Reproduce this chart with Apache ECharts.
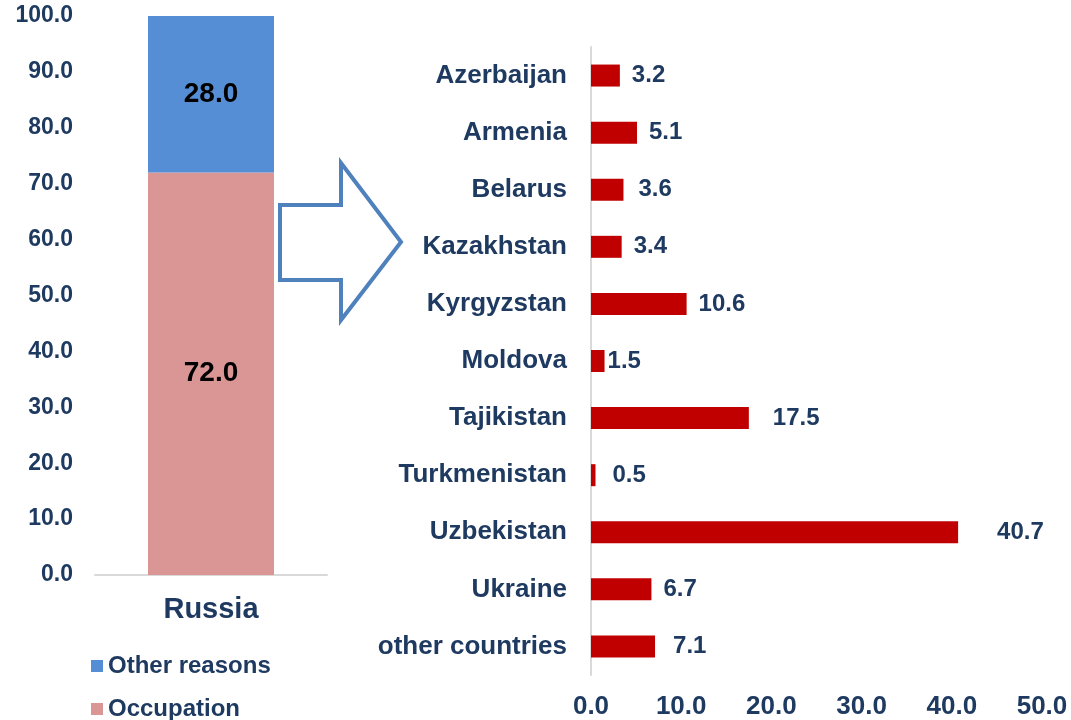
<!DOCTYPE html>
<html>
<head>
<meta charset="utf-8">
<script src="https://cdn.jsdelivr.net/npm/echarts@6/dist/echarts.min.js"></script>
<style>
  html, body { margin: 0; padding: 0; background: #fff; }
  #main { width: 1071px; height: 720px; }
</style>
</head>
<body>
<div id="main"></div>
<script>
var leftCategories = ['Russia'];
var occupation = [72.0];
var otherReasons = [28.0];

var countries = ['Azerbaijan', 'Armenia', 'Belarus', 'Kazakhstan', 'Kyrgyzstan', 'Moldova',
  'Tajikistan', 'Turkmenistan', 'Uzbekistan', 'Ukraine', 'other countries'];
var countryShares = [3.2, 5.1, 3.6, 3.4, 10.6, 1.5, 17.5, 0.5, 40.7, 6.7, 7.1];

var navy = '#1f3a60';
var font = 'Liberation Sans, Arial, sans-serif';

// label gaps differ a bit in the original (excel style)
var labelGap = { 'Tajikistan': 24, 'Uzbekistan': 39, 'Moldova': 3, 'Turkmenistan': 17, 'other countries': 18, 'Belarus': 15 };

function fmt1(v) { return Number(v).toFixed(1); }

var chart = echarts.init(document.getElementById('main'));

var legendText = { color: navy, fontSize: 24, fontWeight: 'bold', fontFamily: font };

chart.setOption({
  animation: false,
  textStyle: { fontFamily: font },
  legend: [
    {
      left: 86, top: 649,
      itemWidth: 12, itemHeight: 12, itemGap: 6,
      selectedMode: false,
      data: [{ name: 'Other reasons', icon: 'rect' }],
      textStyle: legendText
    },
    {
      left: 86, top: 692,
      itemWidth: 12, itemHeight: 12, itemGap: 6,
      selectedMode: false,
      data: [{ name: 'Occupation', icon: 'rect' }],
      textStyle: legendText
    }
  ],
  grid: [
    { left: 95, top: 16, width: 232, height: 559 },
    { left: 591, top: 47, width: 451, height: 628 }
  ],
  xAxis: [
    {
      gridIndex: 0,
      type: 'category',
      data: leftCategories,
      axisTick: { show: false },
      axisLine: { lineStyle: { color: '#d9d9d9', width: 2 } },
      axisLabel: { color: navy, fontSize: 29, fontWeight: 'bold', margin: 20 }
    },
    {
      gridIndex: 1,
      type: 'value',
      min: 0,
      max: 50,
      interval: 10,
      axisLine: { show: false },
      axisTick: { show: false },
      splitLine: { show: false },
      axisLabel: { color: navy, fontSize: 26, fontWeight: 'bold', margin: 19, formatter: fmt1 }
    }
  ],
  yAxis: [
    {
      gridIndex: 0,
      type: 'value',
      min: 0,
      max: 100,
      interval: 10,
      axisLine: { show: false },
      axisTick: { show: false },
      splitLine: { show: false },
      axisLabel: { color: navy, fontSize: 23, fontWeight: 'bold', margin: 22, formatter: fmt1 }
    },
    {
      gridIndex: 1,
      type: 'category',
      inverse: true,
      data: countries,
      axisTick: { show: false },
      axisLine: { lineStyle: { color: '#d9d9d9', width: 2 } },
      axisLabel: { color: navy, fontSize: 26, fontWeight: 'bold', margin: 24 }
    }
  ],
  series: [
    {
      name: 'Occupation',
      type: 'bar',
      stack: 'ru',
      xAxisIndex: 0,
      yAxisIndex: 0,
      barWidth: 126,
      data: occupation,
      itemStyle: { color: '#d99694' },
      label: {
        show: true, position: 'inside', color: '#000', fontSize: 28, fontWeight: 'bold',
        formatter: function (p) { return fmt1(p.value); }
      }
    },
    {
      name: 'Other reasons',
      type: 'bar',
      stack: 'ru',
      xAxisIndex: 0,
      yAxisIndex: 0,
      barWidth: 126,
      data: otherReasons,
      itemStyle: { color: '#558ed5' },
      label: {
        show: true, position: 'inside', color: '#000', fontSize: 28, fontWeight: 'bold',
        formatter: function (p) { return fmt1(p.value); }
      }
    },
    {
      name: 'Share',
      type: 'bar',
      xAxisIndex: 1,
      yAxisIndex: 1,
      barWidth: 22,
      itemStyle: { color: '#c00000' },
      data: countryShares.map(function (v, i) {
        return {
          value: v,
          label: { distance: labelGap[countries[i]] || 12 }
        };
      }),
      label: {
        show: true, position: 'right', color: navy, fontSize: 24, fontWeight: 'bold',
        formatter: function (p) { return fmt1(p.value); }
      }
    }
  ],
  graphic: [
    {
      type: 'polygon',
      shape: {
        points: [[280, 205], [341, 205], [341, 163], [401, 242], [341, 320], [341, 280], [280, 280]]
      },
      style: { fill: '#fff', stroke: '#4f81bd', lineWidth: 4 }
    }
  ]
});
</script>
</body>
</html>
